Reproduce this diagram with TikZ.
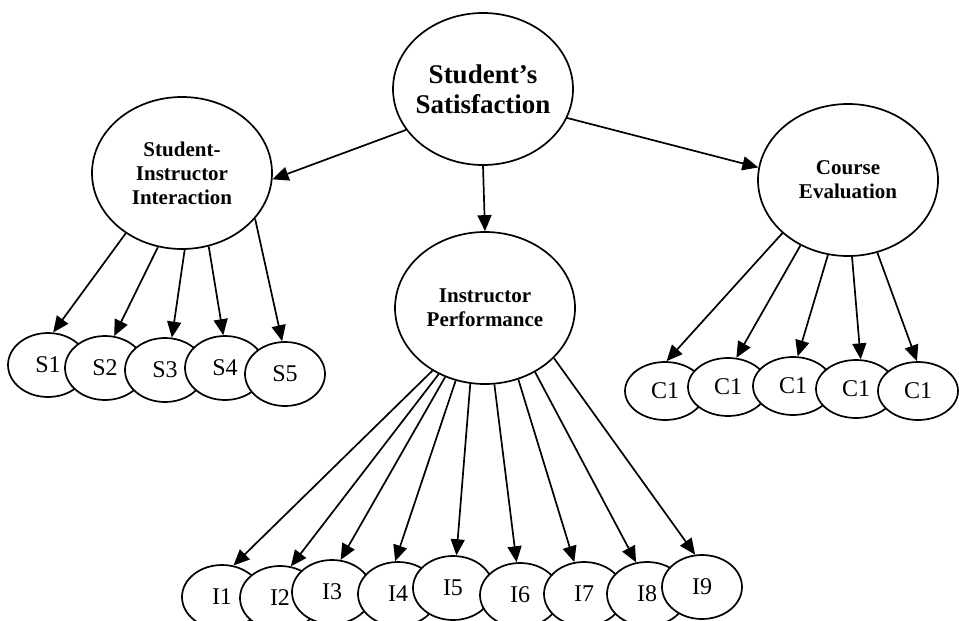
\documentclass[tikz,border=0pt]{standalone}
\usepackage{fontspec}
\setmainfont{Liberation Serif}
\usetikzlibrary{shapes.geometric,arrows.meta}

\begin{document}
\begin{tikzpicture}[x=0.5pt, y=-0.5pt,
    factor/.style={ellipse, draw, fill=white, line width=0.85pt,
        minimum width=90pt, minimum height=76pt, inner xsep=-6pt,
        inner ysep=0pt, align=center,
        font=\bfseries\fontsize{10.5}{12}\selectfont},
    item/.style={ellipse, draw, fill=white, line width=0.85pt,
        minimum width=40pt, minimum height=32pt, inner sep=0pt,
        font=\fontsize{12}{14}\selectfont},
    >={Stealth[length=8pt,width=7pt,inset=0pt]}, line width=0.85pt]

    \useasboundingbox (0,0) rectangle (959,621);

    \node[factor, font=\bfseries\fontsize{13.5}{15}\selectfont] (Sat) at (483,89) {Student's\\Satisfaction};
    \node[factor] (SII) at (182,173) {Student-\\Instructor\\Interaction};
    \node[factor] (CE) at (848,180) {Course\\Evaluation};
    \node[factor] (IP) at (485,308) {Instructor\\Performance};

    % student-instructor items
    \node[item] (S1) at (48,365) {S1};
    \node[item] (S2) at (105,368) {S2};
    \node[item] (S3) at (165,370) {S3};
    \node[item] (S4) at (225,368) {S4};
    \node[item] (S5) at (285,374) {S5};

    % course items
    \node[item, minimum height=29pt] (C1) at (665,391) {C1};
    \node[item, minimum height=29pt] (C2) at (728,387) {C1};
    \node[item, minimum height=29pt] (C3) at (793,386) {C1};
    \node[item, minimum height=29pt] (C4) at (856,389) {C1};
    \node[item, minimum height=29pt] (C5) at (918,391) {C1};

    % instructor items
    \node[item] (I1) at (222,597) {I1};
    \node[item] (I2) at (280,598) {I2};
    \node[item] (I3) at (332,592) {I3};
    \node[item] (I4) at (398,594) {I4};
    \node[item] (I5) at (453,588) {I5};
    \node[item] (I6) at (520,595) {I6};
    \node[item] (I7) at (584,594) {I7};
    \node[item] (I8) at (647,594) {I8};
    \node[item] (I9) at (702,587) {I9};

    \draw[->] (Sat.208) -- (SII.-4);
    \draw[->] (Sat.-19) -- (CE.172);
    \draw[->] (Sat.south) -- (IP.north);

    \draw[->] (SII.227) -- (S1.81);
    \draw[->] (SII.252) -- (S2.74);
    \draw[->] (SII.272) -- (S3.78);
    \draw[->] (SII.290) -- (S4.93);
    \draw[->] (SII.328) -- (S5.95);

    \draw[->] (CE.219) -- (C1.87);
    \draw[->] (CE.234) -- (C2.74);
    \draw[->] (CE.255) -- (C3.81);
    \draw[->] (CE.273) -- (C4.81);
    \draw[->] (CE.292) -- (C5.92);

    \draw[->] (IP.230) -- (I1.70);
    \draw[->] (IP.235) -- (I2.71);
    \draw[->] (IP.240) -- (I3.75);
    \draw[->] (IP.248) -- (I4.95);
    \draw[->] (IP.259) -- (I5.84);
    \draw[->] (IP.277) -- (I6.96);
    \draw[->] (IP.295) -- (I7.107);
    \draw[->] (IP.308) -- (I8.109);
    \draw[->] (IP.324) -- (I9.102);
\end{tikzpicture}
\end{document}
